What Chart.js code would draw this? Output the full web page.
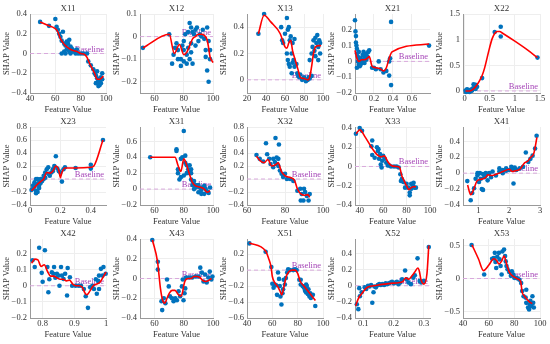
<!DOCTYPE html>
<html>
<head>
<meta charset="utf-8">
<script src="https://cdn.jsdelivr.net/npm/chart.js"></script>
<style>
  html, body { margin: 0; padding: 0; background: #fff; }
  #wrap { position: relative; width: 550px; height: 344px; overflow: hidden; }
  #wrap canvas { position: absolute; }
</style>
</head>
<body>
<div id="wrap"></div>
<script>
// SHAP dependence data: [feature value, SHAP value]
const x11Pts = [[48,0.32],[55,0.28],[60,0.35],[61,0.27],[62,0.24],[63,0.2],[64,0.17],[65,0.13],[66,0.22],[67,0.1],[68,0.08],[69,0.12],[70,0.1],[71,0.14],[72,0.07],[65,0],[67,0.02],[68,0],[69,0.04],[70,0.05],[71,0.02],[72,0],[73,0.05],[74,0.02],[75,0.03],[76,0],[77,0.04],[78,0],[80,0],[82,0],[85,0],[86,-0.08],[88,-0.12],[90,-0.16],[91,-0.2],[92,-0.22],[92,-0.3],[93,-0.25],[93,-0.18],[94,-0.3],[94,-0.27],[94,-0.33],[95,-0.32],[95,-0.28],[96,-0.24],[96,-0.3],[97,-0.2],[97,-0.26]];
const x11Curve = [[48,0.32],[55,0.28],[59,0.26],[62,0.22],[64,0.15],[66,0.11],[68,0.08],[71,0.05],[74,0.03],[77,0.02],[80,0],[83,-0.01],[85,-0.04],[87,-0.1],[89,-0.15],[91,-0.2],[93,-0.26],[95,-0.26],[98,-0.23]];

const x12Pts = [[52,-0.05],[70,0.01],[72,-0.12],[73,-0.08],[74,-0.05],[75,-0.03],[76,-0.06],[76,-0.1],[78,-0.1],[78,-0.13],[79,-0.04],[80,-0.02],[80,-0.06],[80,-0.11],[81,0.01],[82,-0.08],[82,-0.12],[83,-0.05],[83,0.02],[84,0.06],[84,-0.1],[85,-0.03],[85,0.04],[85,-0.07],[86,0.02],[86,-0.12],[87,0.01],[88,-0.04],[88,0.03],[89,0.04],[90,-0.02],[91,0.01],[92,0],[93,0.03],[94,-0.01],[95,-0.06],[95,-0.09],[96,0.04],[96,-0.15],[97,-0.02],[97,-0.2],[98,-0.06],[98,-0.1]];
const x12Curve = [[52,-0.05],[70,0.01],[73.5,-0.075],[77,-0.035],[80,-0.08],[82,-0.07],[84,-0.04],[86,-0.01],[88,0],[90,0.01],[92,0.01],[94,0.005],[96,-0.015],[97,-0.05],[98,-0.09],[100,-0.115]];

const x13Pts = [[32,0.35],[38,0.5],[56,0.4],[57,0.3],[58,0.28],[60,0.35],[62,0.47],[63,0.38],[64,0.4],[65,0.3],[66,0.33],[67,0.2],[68,0.28],[69,0.15],[70,0.31],[62,0.2],[63,0.15],[64,0.12],[65,0.1],[67,0.05],[68,0.13],[70,0.1],[72,0.12],[73,0.05],[74,0.03],[75,0.02],[76,0.04],[78,0],[80,0.02],[82,-0.01],[84,0],[85,0.02],[86,0.01],[88,0.03],[86,0.15],[88,0.2],[89,0.25],[90,0.3],[91,0.22],[92,0.32],[93,0.28],[94,0.34],[95,0.25],[96,0.3],[97,0.2],[92,0.18],[95,0.15],[97,0.28]];
const x13Curve = [[32,0.35],[38,0.49],[45,0.44],[55,0.35],[60,0.25],[62,0.24],[64,0.28],[66,0.3],[68,0.22],[70,0.17],[72,0.12],[74,0.07],[76,0.02],[80,0.01],[84,0],[86,0.02],[88,0.1],[90,0.2],[92,0.25],[95,0.26],[98,0.26]];

const x21Pts = [[0,0.26],[0.005,0.19],[0.01,0.16],[0.01,0.12],[0.015,0.1],[0.02,0.08],[0.02,0.05],[0.03,0.03],[0.03,0],[0.04,-0.02],[0.05,-0.03],[0.05,0.01],[0.06,0.02],[0.07,-0.01],[0.08,0.04],[0.09,0.06],[0.1,0.02],[0.11,0.04],[0.12,0.05],[0.13,0.03],[0.14,0.06],[0.15,0.07],[0.02,-0.04],[0.04,0.06],[0.06,-0.02],[0.08,0],[0.1,-0.01],[0.12,0.01],[0.18,-0.04],[0.2,-0.04],[0.22,-0.05],[0.25,0],[0.27,-0.05],[0.3,-0.07],[0.33,-0.06],[0.36,0],[0.37,0.02],[0.36,-0.09],[0.38,-0.15],[0.38,0.25],[0.78,0.1]];
const x21Curve = [[0,0.07],[0.02,0.02],[0.04,0],[0.07,0.01],[0.1,0.01],[0.13,0.02],[0.15,0.03],[0.18,-0.03],[0.22,-0.04],[0.26,-0.045],[0.3,-0.06],[0.33,-0.04],[0.36,0.02],[0.39,0.06],[0.78,0.11]];

const x22Pts = [[0.02,0.01],[0.03,-0.02],[0.05,0],[0.05,0.03],[0.06,0.02],[0.08,-0.01],[0.1,0],[0.1,-0.02],[0.12,0.02],[0.13,0],[0.15,0.03],[0.15,0.01],[0.17,0.05],[0.18,0.13],[0.2,0.1],[0.2,0.06],[0.22,0.12],[0.22,0.04],[0.25,0.08],[0.35,0.25],[0.6,1.15],[0.72,1.25],[0.72,1.06],[1.45,0.65]];
const x22Curve = [[0.02,0],[0.1,0],[0.18,0.04],[0.25,0.12],[0.3,0.2],[0.35,0.3],[0.4,0.45],[0.45,0.65],[0.5,0.85],[0.55,1.02],[0.6,1.12],[0.65,1.16],[0.7,1.16],[0.75,1.13],[1.0,0.97],[1.25,0.8],[1.45,0.65]];

const x23Pts = [[0.01,-0.17],[0.02,-0.15],[0.02,-0.1],[0.03,-0.05],[0.03,-0.12],[0.03,-0.08],[0.04,-0.18],[0.04,0],[0.04,-0.22],[0.05,-0.2],[0.05,-0.08],[0.05,0],[0.06,-0.05],[0.06,-0.1],[0.06,-0.14],[0.07,0],[0.07,-0.06],[0.08,-0.03],[0.08,0],[0.09,0.05],[0.09,0],[0.1,0.1],[0.1,0.02],[0.11,0.15],[0.12,0.18],[0.12,0.08],[0.13,0.05],[0.14,0.1],[0.15,0.12],[0.15,0.15],[0.16,0.2],[0.17,0.35],[0.18,0.16],[0.19,0.12],[0.2,0.1],[0.21,-0.04],[0.22,0.15],[0.23,0.18],[0.3,0.17],[0.4,0.22],[0.4,0.16],[0.48,0.6]];
const x23Curve = [[0.01,-0.18],[0.03,-0.13],[0.05,-0.08],[0.07,-0.04],[0.09,0],[0.11,0.1],[0.13,0.09],[0.15,0.12],[0.17,0.2],[0.19,0.13],[0.2,0.02],[0.21,0.1],[0.23,0.17],[0.3,0.17],[0.4,0.18],[0.42,0.2],[0.48,0.6]];

const x31Pts = [[57,0.4],[75,0.5],[75,0.48],[76,0.2],[76,0.25],[77,0.12],[78,0.15],[78,0.38],[79,0.4],[80,0.73],[80,0.17],[81,0.33],[81,0.42],[82,0.3],[82,0.2],[83,0.25],[84,0.3],[84,0.2],[85,0.2],[85,0.25],[85,0.12],[86,0.05],[86,0.1],[87,0],[87,0.1],[88,0.02],[88,0.05],[89,0.03],[90,0.05],[90,-0.04],[91,0.02],[92,-0.01],[92,-0.06],[93,0.02],[94,0.04],[94,-0.06],[95,0],[96,-0.03],[97,-0.05],[98,0.02]];
const x31Curve = [[57,0.4],[74,0.4],[76,0.3],[78,0.22],[80,0.38],[82,0.3],[84,0.18],[86,0.08],[88,0.04],[90,0.03],[92,0.02],[94,0],[96,-0.04],[98,-0.02]];

const x32Pts = [[65,0.37],[66.7,0.31],[68.5,0.27],[70,0.55],[70.6,0.38],[71.7,0.31],[72.4,0.23],[73.8,0.18],[73.8,0.31],[74.7,0.26],[75,0.63],[76.8,0.53],[75.6,0.33],[75.6,0.23],[76.5,0.31],[76.5,0.2],[77.3,0.13],[78.2,0.08],[79,0.03],[80,0.08],[81,0],[82.7,0],[84.4,-0.03],[86.5,-0.18],[88,-0.15],[88.8,-0.23],[89.7,-0.33],[90.6,-0.2],[91.5,-0.26],[92.4,-0.33],[88.3,-0.33],[90,-0.15],[93,-0.23]];
const x32Curve = [[65,0.35],[67,0.28],[69,0.25],[71,0.3],[73,0.2],[75,0.22],[76.5,0.25],[78,0.12],[80,0.05],[83,0.02],[85,-0.02],[86.5,-0.15],[88,-0.22],[90,-0.25],[92,-0.24],[93,-0.28]];

const x33Pts = [[36.8,0.34],[40,0.4],[42,0.37],[50.7,0.27],[50,0.21],[50.7,0.12],[52.8,0.09],[54.7,0.2],[55.5,0.16],[56,0.18],[57.3,0.13],[56.5,0.08],[58,0.02],[58.7,-0.01],[59.2,0.06],[60,0.11],[61.3,0.08],[62.7,0.04],[64,0.01],[65.3,0.01],[66.7,0],[69.3,0],[71.5,0],[73.3,-0.01],[74.7,-0.08],[76,-0.13],[77.3,-0.16],[75.2,-0.15],[78.7,-0.22],[80,-0.18],[81.3,-0.22],[82.7,-0.27],[82.7,-0.3],[84,-0.23],[84,-0.18],[85.3,-0.2],[86.7,-0.22],[86,-0.17],[88,-0.22]];
const x33Curve = [[37,0.34],[40,0.38],[45,0.3],[50,0.2],[55,0.12],[58,0.1],[61,0.11],[64,0.05],[67,0.01],[71,0],[74,-0.01],[76,-0.1],[78,-0.15],[80,-0.2],[82,-0.24],[84,-0.22],[86,-0.21],[88,-0.21]];

const x41Pts = [[0.64,-0.1],[0.75,-0.34],[0.8,-0.25],[0.86,-0.19],[0.91,-0.07],[0.97,0],[0.97,-0.03],[1.02,-0.11],[1.05,0],[1.08,-0.07],[1.11,-0.2],[1.15,-0.21],[1.15,-0.01],[1.19,-0.05],[1.24,-0.03],[1.24,0],[1.3,-0.09],[1.35,0],[1.41,-0.05],[1.46,0.02],[1.57,-0.03],[1.68,0.02],[1.68,0.06],[1.79,0.04],[1.79,0],[1.9,0.06],[1.9,0.03],[2,0.04],[2.07,0.08],[2.12,0.05],[2.18,0.07],[2.14,-0.13],[2.23,0.04],[2.34,0.06],[2.45,0.08],[2.54,0.26],[2.62,0.14],[2.69,0.18],[2.76,0.22],[2.84,0.31],[2.89,0.47]];
const x41Curve = [[0.65,-0.15],[0.75,-0.27],[0.85,-0.2],[0.95,-0.1],[1.05,-0.08],[1.15,-0.07],[1.25,-0.05],[1.3,-0.02],[1.45,-0.03],[1.6,-0.01],[1.8,0.02],[2,0.05],[2.1,0.02],[2.2,0.03],[2.35,0.05],[2.5,0.13],[2.6,0.15],[2.7,0.2],[2.8,0.25],[2.9,0.45]];

const x42Pts = [[0.768,0.158],[0.775,0.116],[0.789,0.236],[0.797,0.08],[0.8,0.025],[0.807,0.22],[0.815,0.116],[0.818,-0.04],[0.821,0.04],[0.829,0.084],[0.834,0.074],[0.836,0.116],[0.84,0.05],[0.845,0.074],[0.85,0.063],[0.853,0],[0.858,0.116],[0.861,0.063],[0.866,0.042],[0.871,0.074],[0.877,-0.06],[0.879,0.11],[0.886,0.053],[0.893,0],[0.904,0],[0.914,0],[0.921,0],[0.93,-0.02],[0.936,-0.065],[0.943,-0.137],[0.95,-0.01],[0.957,0],[0.962,-0.02],[0.968,0.04],[0.971,-0.05],[0.975,0.03],[0.978,0.063],[0.978,-0.02],[0.984,0.105],[0.989,0.063],[0.992,0.116],[0.999,0.074]];
const x42Curve = [[0.765,0.14],[0.775,0.165],[0.785,0.16],[0.795,0.12],[0.805,0.13],[0.815,0.09],[0.825,0.06],[0.835,0.06],[0.845,0.05],[0.855,0.04],[0.865,0.04],[0.875,0.03],[0.885,0.035],[0.895,0.01],[0.905,0],[0.915,0],[0.925,-0.01],[0.935,-0.05],[0.94,-0.055],[0.95,-0.03],[0.96,0],[0.97,0.01],[0.98,0.02],[0.99,0.05],[1,0.085]];

const x43Pts = [[58.4,0.39],[62.2,0.17],[62.2,0.09],[64.7,-0.23],[65.2,-0.32],[66.3,-0.2],[67.4,-0.25],[68.5,-0.01],[69.7,-0.08],[70.5,-0.18],[71.9,-0.2],[73,-0.23],[74.2,-0.2],[75.3,-0.22],[76.4,-0.13],[77.5,-0.18],[78.7,-0.08],[79.3,-0.01],[79.8,-0.22],[80.5,-0.15],[81,-0.1],[81.5,0.01],[83.7,0.01],[85.8,0.01],[88,0.02],[90.2,0.02],[91.3,0.11],[92.4,0.06],[93.5,-0.03],[94.6,0.04],[95.7,-0.04],[96.8,0.01],[97.8,0.07],[98.9,-0.01],[99.6,0.02]];
const x43Curve = [[58.5,0.39],[62,0.17],[64,-0.1],[65.5,-0.22],[67,-0.25],[68.5,-0.2],[70,-0.15],[72,-0.12],[74,-0.12],[76,-0.16],[78,-0.18],[79,-0.15],[80,-0.07],[81,-0.02],[83,0],[85,0],[87,0.02],[89,0.02],[91,0.01],[93,-0.02],[95,-0.03],[97,-0.02],[99,0]];

const x51Pts = [[41.9,0.335],[54.7,0.23],[59.2,0.04],[60,-0.17],[61,-0.22],[61.9,-0.18],[63,-0.19],[63.7,-0.31],[64.5,-0.03],[65.3,-0.11],[65.9,-0.2],[66.4,-0.33],[67.2,-0.43],[68,-0.29],[68.5,-0.24],[69,-0.12],[69.9,-0.18],[70.7,-0.1],[71.7,-0.03],[72.5,0.01],[73.9,0],[76.5,0],[77.9,0.01],[79.2,0],[81.3,-0.12],[82.4,-0.18],[82.4,-0.12],[83.9,-0.2],[85,-0.22],[85.8,-0.26],[86.7,-0.28],[86.7,-0.18],[87.2,-0.2],[88,-0.3],[88.5,-0.24],[89.3,-0.33],[89.9,-0.29],[90.4,-0.35],[92,-0.31],[93.9,-0.45]];
const x51Curve = [[41.9,0.34],[54.7,0.24],[57,0.15],[59,0.04],[60,-0.08],[62,-0.16],[64,-0.2],[66,-0.26],[67.5,-0.31],[69,-0.22],[71,-0.08],[73,-0.02],[76,0],[78,0],[80,-0.04],[82,-0.14],[85,-0.2],[88,-0.26],[91,-0.32],[94,-0.38]];

const x52Pts = [[0.079,-0.23],[0.084,-0.29],[0.087,-0.03],[0.089,-0.13],[0.095,-0.08],[0.105,-0.02],[0.11,-0.04],[0.116,0],[0.121,-0.01],[0.126,0.01],[0.13,-0.21],[0.134,-0.08],[0.137,-0.01],[0.142,-0.02],[0.148,0.01],[0.153,0.02],[0.158,0.01],[0.163,0.02],[0.169,0.01],[0.174,0.03],[0.179,0.02],[0.185,0.03],[0.19,0.04],[0.195,0.05],[0.201,0.03],[0.206,0.04],[0.211,0.05],[0.216,0.02],[0.222,0.04],[0.228,0.08],[0.238,0.19],[0.243,0.08],[0.249,0.04],[0.257,0.02],[0.265,0.1],[0.27,0.13],[0.279,0.34],[0.286,0.06],[0.291,0.04],[0.3,0.06],[0.316,0.48]];
const x52Curve = [[0.075,-0.25],[0.085,-0.15],[0.095,-0.1],[0.11,-0.03],[0.12,-0.01],[0.135,0],[0.15,0.01],[0.17,0.02],[0.19,0.03],[0.21,0.035],[0.22,0.04],[0.23,0.05],[0.24,0.1],[0.25,0.08],[0.26,0.12],[0.27,0.17],[0.28,0.22],[0.285,0.18],[0.29,0.08],[0.3,0.02],[0.31,0.15],[0.316,0.5]];

const x53Pts = [[46.7,0.51],[56.5,0.06],[62.7,0.3],[64,0.31],[64.8,0.39],[65.3,0.25],[65.9,0.16],[66.7,0.33],[68,0.39],[68.5,0.29],[69.3,0.19],[70.1,0.06],[70.7,0.41],[72,0.44],[72.8,0.34],[73.3,0.26],[73.9,0.19],[74.7,0.14],[76,0.1],[77.3,0.04],[78.1,0.11],[79.2,0.06],[80,0.01],[81.3,0.01],[82.7,0],[84,-0.02],[85.3,-0.07],[86.1,-0.19],[87.2,-0.27],[88.8,-0.29],[89.3,-0.37],[89.3,-0.17],[90.7,-0.44],[91.5,-0.47],[92,-0.39],[92.5,-0.34],[93.3,-0.42],[94.1,-0.27],[94.7,-0.37],[95.2,-0.44]];
const x53Curve = [[47,0.51],[52,0.3],[56,0.12],[60,0.2],[64,0.3],[66,0.28],[68,0.22],[70,0.26],[72,0.34],[74,0.22],[76,0.1],[78,0.05],[80,0.02],[83,-0.01],[85,-0.05],[86,-0.2],[88,-0.27],[90,-0.32],[92,-0.36],[94,-0.38]];

// tick labels
const x11XTicks = [40,60,80,100], x11YTicks = [-0.4,-0.2,0,0.2,0.4];
const x12XTicks = [60,80,100],    x12YTicks = [-0.2,-0.1,0,0.1];
const x13XTicks = [20,40,60,80,100], x13YTicks = [0,0.2,0.4];
const x21XTicks = [0,0.2,0.4,0.6], x21YTicks = [-0.2,-0.1,0,0.1,0.2];
const x22XTicks = [0,0.5,1,1.5],  x22YTicks = [0,0.5,1,1.5];
const x23XTicks = [0,0.2,0.4],    x23YTicks = [-0.4,-0.2,0,0.2,0.4,0.6,0.8];
const x31XTicks = [60,80,100],    x31YTicks = [-0.2,0,0.2,0.4,0.6];
const x32XTicks = [60,80,100],    x32YTicks = [-0.4,-0.2,0,0.2,0.4,0.6,0.8];
const x33XTicks = [40,60,80,100], x33YTicks = [-0.4,-0.2,0,0.2,0.4];
const x41XTicks = [1,2,3],        x41YTicks = [-0.4,-0.2,0,0.2,0.4];
const x42XTicks = [0.8,0.9,1],    x42YTicks = [-0.2,-0.1,0,0.1,0.2];
const x43XTicks = [60,80,100],    x43YTicks = [-0.4,-0.2,0,0.2,0.4];
const x51XTicks = [40,60,80,100], x51YTicks = [-0.6,-0.4,-0.2,0,0.2];
const x52XTicks = [0.1,0.2,0.3],  x52YTicks = [-0.4,-0.2,0,0.2,0.4];
const x53XTicks = [40,60,80,100], x53YTicks = [-0.5,0,0.5];

// panels, left to right, top to bottom (axis limits per panel)
const panels = [
  {title:'X11', pts:x11Pts, curve:x11Curve, xt:x11XTicks, yt:x11YTicks, xr:[40,100],   yr:[-0.4,0.4]},
  {title:'X12', pts:x12Pts, curve:x12Curve, xt:x12XTicks, yt:x12YTicks, xr:[50,100],   yr:[-0.25,0.1]},
  {title:'X13', pts:x13Pts, curve:x13Curve, xt:x13XTicks, yt:x13YTicks, xr:[20,100],   yr:[-0.1,0.5]},
  {title:'X21', pts:x21Pts, curve:x21Curve, xt:x21XTicks, yt:x21YTicks, xr:[0,0.79],   yr:[-0.2,0.3]},
  {title:'X22', pts:x22Pts, curve:x22Curve, xt:x22XTicks, yt:x22YTicks, xr:[-0.03,1.5],yr:[-0.04,1.5]},
  {title:'X23', pts:x23Pts, curve:x23Curve, xt:x23XTicks, yt:x23YTicks, xr:[0,0.5],    yr:[-0.4,0.8]},
  {title:'X31', pts:x31Pts, curve:x31Curve, xt:x31XTicks, yt:x31YTicks, xr:[50,100],   yr:[-0.2,0.78]},
  {title:'X32', pts:x32Pts, curve:x32Curve, xt:x32XTicks, yt:x32YTicks, xr:[60,100],   yr:[-0.4,0.8]},
  {title:'X33', pts:x33Pts, curve:x33Curve, xt:x33XTicks, yt:x33YTicks, xr:[36,100],   yr:[-0.4,0.41]},
  {title:'X41', pts:x41Pts, curve:x41Curve, xt:x41XTicks, yt:x41YTicks, xr:[0.5,3],    yr:[-0.4,0.58]},
  {title:'X42', pts:x42Pts, curve:x42Curve, xt:x42XTicks, yt:x42YTicks, xr:[0.76,1],   yr:[-0.2,0.29]},
  {title:'X43', pts:x43Pts, curve:x43Curve, xt:x43XTicks, yt:x43YTicks, xr:[50,100],   yr:[-0.4,0.4]},
  {title:'X51', pts:x51Pts, curve:x51Curve, xt:x51XTicks, yt:x51YTicks, xr:[40,100],   yr:[-0.6,0.39]},
  {title:'X52', pts:x52Pts, curve:x52Curve, xt:x52XTicks, yt:x52YTicks, xr:[0.073,0.32],yr:[-0.4,0.58]},
  {title:'X53', pts:x53Pts, curve:x53Curve, xt:x53XTicks, yt:x53YTicks, xr:[40,100],   yr:[-0.6,0.6]}
];

// plot area placement on the page
const colLeft = [30, 140, 247, 355, 463];
const colWidth = [76, 73, 76, 75, 77];
const rowTop = [14, 127, 239];
const rowHeight = [79, 78, 79];
const Y_AXIS_W = 30, TITLE_H = 14, X_AXIS_H = 23, PAD_R = 10;

const FONT = '"Liberation Serif", "Times New Roman", serif';
const TEXT = '#333333';
const fmt = v => String(v).replace('-', '\u2212');
const toXY = arr => arr.map(([x, y]) => ({x, y}));

// panel title centred over the plot area + purple "Baseline" label on the zero line
const panelText = {
  id: 'panelText',
  beforeDatasetsDraw(chart, args, opts) {
    const {ctx, chartArea, scales: {x, y}} = chart;
    ctx.save();
    ctx.font = '9px ' + FONT;
    ctx.fillStyle = TEXT;
    ctx.textAlign = 'center';
    ctx.textBaseline = 'middle';
    ctx.fillText(opts.title, (chartArea.left + chartArea.right) / 2, chartArea.top - 5.5);

    const py = y.getPixelForValue(0);
    ctx.font = '8.5px ' + FONT;
    ctx.fillStyle = '#a646b8';
    ctx.textAlign = 'right';
    ctx.textBaseline = 'alphabetic';
    ctx.fillText('Baseline', x.right - 2, py - 2);
    ctx.restore();
  }
};

const wrap = document.getElementById('wrap');

panels.forEach((p, i) => {
  const row = Math.floor(i / 5), col = i % 5;
  const cv = document.createElement('canvas');
  cv.width = Y_AXIS_W + colWidth[col] + PAD_R;
  cv.height = TITLE_H + rowHeight[row] + X_AXIS_H;
  cv.style.left = (colLeft[col] - Y_AXIS_W) + 'px';
  cv.style.top = (rowTop[row] - TITLE_H) + 'px';
  wrap.appendChild(cv);

  new Chart(cv, {
    type: 'scatter',
    data: {
      datasets: [
        { // smoothed trend
          data: toXY(p.curve), showLine: true, borderColor: '#ff0000', borderWidth: 1.6,
          pointRadius: 0, cubicInterpolationMode: 'monotone', order: 0, clip: false
        },
        { // samples
          data: toXY(p.pts), backgroundColor: '#0072bd', borderColor: '#0072bd', borderWidth: 0,
          pointRadius: 2.3, order: 1, clip: false
        },
        { // zero baseline
          data: [{x: p.xr[0], y: 0}, {x: p.xr[1], y: 0}], showLine: true,
          borderColor: '#d9a9dd', borderWidth: 1, borderDash: [4, 3], pointRadius: 0, order: 2
        }
      ]
    },
    options: {
      responsive: false,
      animation: false,
      devicePixelRatio: 1,
      layout: { padding: { left: 0, right: PAD_R, top: TITLE_H, bottom: 0 } },
      plugins: {
        legend: { display: false },
        tooltip: { enabled: false },
        title: { display: false },
        panelText: { title: p.title }
      },
      scales: {
        x: {
          type: 'linear', min: p.xr[0], max: p.xr[1], bounds: 'data',
          afterBuildTicks: s => { s.ticks = p.xt.map(v => ({value: v})); },
          afterFit: s => { s.height = X_AXIS_H; },
          ticks: { callback: v => fmt(v), color: TEXT, font: { family: FONT, size: 8.5 }, padding: 1, autoSkip: false, maxRotation: 0 },
          grid: { color: '#eeeeee', drawTicks: false },
          border: { color: '#9a9a9a' },
          title: { display: true, text: 'Feature Value', color: TEXT, font: { family: FONT, size: 8.5 }, padding: { top: 0, bottom: 1 } }
        },
        y: {
          type: 'linear', min: p.yr[0], max: p.yr[1], bounds: 'data',
          afterBuildTicks: s => { s.ticks = p.yt.map(v => ({value: v})); },
          afterFit: s => { s.width = Y_AXIS_W; },
          ticks: { callback: v => fmt(v), color: TEXT, font: { family: FONT, size: 8.5 }, padding: 3, autoSkip: false },
          grid: { color: '#eeeeee', drawTicks: false },
          border: { color: '#9a9a9a' },
          title: { display: true, text: 'SHAP Value', color: TEXT, font: { family: FONT, size: 8.5 }, padding: { top: 2, bottom: 0 } }
        }
      }
    },
    plugins: [panelText]
  });
});
</script>
</body>
</html>
